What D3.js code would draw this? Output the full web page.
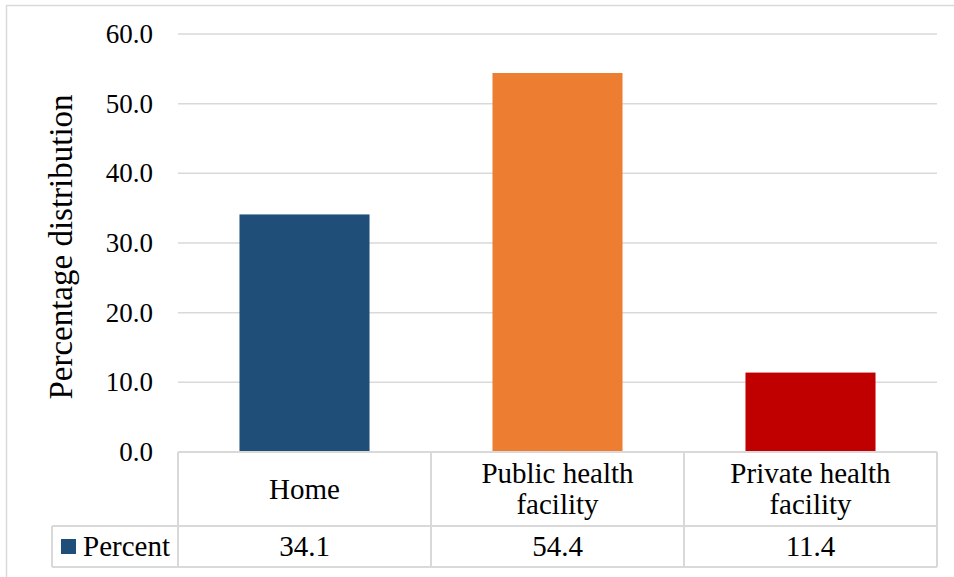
<!DOCTYPE html>
<html>
<head>
<meta charset="utf-8">
<script src="https://cdn.jsdelivr.net/npm/d3@7"></script>
<style>
  html, body { margin: 0; padding: 0; background: #fff; font-family: "Liberation Serif"; }
  svg { display: block; font-family: "Liberation Serif"; }
  svg text { font-family: "Liberation Serif"; }
</style>
</head>
<body>
<svg id="chart" width="954" height="577"></svg>
<script>
// Place of delivery, percentage distribution
const categories = ["Home", "Public health facility", "Private health facility"];
const categoryLines = [["Home"], ["Public health", "facility"], ["Private health", "facility"]];
const values = [34.1, 54.4, 11.4];
const colors = ["#1f4e79", "#ed7d31", "#c00000"];
const seriesName = "Percent";
const yTicks = [0, 10, 20, 30, 40, 50, 60];

const FONT = '"Liberation Serif"';
const svg = d3.select("#chart");
const W = 954, H = 577;
const grid = "#d9d9d9";

// chart frame
svg.append("rect")
  .attr("x", 6.5).attr("y", 5.5)
  .attr("width", W + 10).attr("height", H + 10)
  .attr("fill", "#fff").attr("stroke", grid).attr("stroke-width", 1.5);

const plot = { left: 178, right: 937, top: 34, bottom: 452 };
const table = { catBottom: 526, valBottom: 567, legendLeft: 52 };

const x = d3.scaleBand().domain(categories)
  .range([plot.left, plot.right]).paddingInner(0.486).paddingOuter(0.243);
const y = d3.scaleLinear().domain([0, 60]).range([plot.bottom, plot.top]);

// horizontal gridlines
svg.append("g").selectAll("line").data(yTicks.filter(d => d > 0)).join("line")
  .attr("x1", plot.left).attr("x2", plot.right)
  .attr("y1", d => y(d)).attr("y2", d => y(d))
  .attr("stroke", grid).attr("stroke-width", 1.5);

// y axis labels
const yAxis = d3.axisLeft(y).tickValues(yTicks).tickFormat(d3.format(".1f")).tickSize(0).tickPadding(25);
const gy = svg.append("g").attr("transform", `translate(${plot.left},0)`).call(yAxis);
gy.select(".domain").remove();
gy.attr("font-family", null).attr("font-size", null);
gy.selectAll("text").attr("class", "lbl")
  .style("font-size", "27px").attr("fill", "#000");

// axis title
svg.append("text").attr("class", "lbl")
  .attr("transform", `translate(61,${(plot.top + plot.bottom) / 2 + 4}) rotate(-90)`)
  .attr("text-anchor", "middle").attr("dominant-baseline", "central")
  .style("font-size", "33px")
  .text("Percentage distribution");

// bars
svg.append("g").selectAll("rect").data(categories).join("rect")
  .attr("x", d => x(d))
  .attr("width", x.bandwidth())
  .attr("y", (d, i) => y(values[i]))
  .attr("height", (d, i) => y(0) - y(values[i]))
  .attr("fill", (d, i) => colors[i]);

// data table
const colEdges = categories.map(d => x(d) - x.step() * x.paddingInner() / 2);
colEdges.push(plot.right);
const tg = svg.append("g").attr("fill", "none").attr("stroke", grid).attr("stroke-width", 2);
colEdges.forEach(cx => {
  tg.append("line").attr("x1", cx).attr("x2", cx)
    .attr("y1", plot.bottom).attr("y2", table.valBottom);
});
tg.append("line").attr("x1", table.legendLeft).attr("x2", table.legendLeft)
  .attr("y1", table.catBottom).attr("y2", table.valBottom);
tg.append("line").attr("x1", plot.left).attr("x2", plot.right)
  .attr("y1", plot.bottom).attr("y2", plot.bottom);
tg.append("line").attr("x1", table.legendLeft).attr("x2", plot.right)
  .attr("y1", table.catBottom).attr("y2", table.catBottom);
tg.append("line").attr("x1", table.legendLeft).attr("x2", plot.right)
  .attr("y1", table.valBottom).attr("y2", table.valBottom);

// category labels
const lineH = 31;
categories.forEach((c, i) => {
  const lines = categoryLines[i];
  const cx = x(c) + x.bandwidth() / 2;
  const cy = (plot.bottom + table.catBottom) / 2;
  const t = svg.append("text").attr("class", "lbl").attr("text-anchor", "middle")
    .style("font-size", "29px");
  lines.forEach((ln, j) => {
    t.append("tspan").attr("x", cx)
      .attr("y", cy + (j - (lines.length - 1) / 2) * lineH + 9.5)
      .text(ln);
  });
});

// value row
categories.forEach((c, i) => {
  svg.append("text").attr("class", "lbl")
    .attr("x", x(c) + x.bandwidth() / 2)
    .attr("y", (table.catBottom + table.valBottom) / 2 + 9.5)
    .attr("text-anchor", "middle")
    .style("font-size", "29px")
    .text(d3.format(".1f")(values[i]));
});

// legend key in the table
svg.append("rect").attr("x", 61).attr("y", 539).attr("width", 15).attr("height", 15).attr("fill", colors[0]);
svg.append("text").attr("class", "lbl").attr("x", 83).attr("y", (table.catBottom + table.valBottom) / 2 + 9.5)
  .style("font-size", "29px").text(seriesName);

// apply the serif face to every label, and again once fonts are ready
function applyFont() {
  svg.selectAll("text.lbl").style("font-family", FONT);
}
applyFont();
if (document.fonts && document.fonts.ready) {
  document.fonts.ready.then(applyFont);
}
</script>
</body>
</html>
